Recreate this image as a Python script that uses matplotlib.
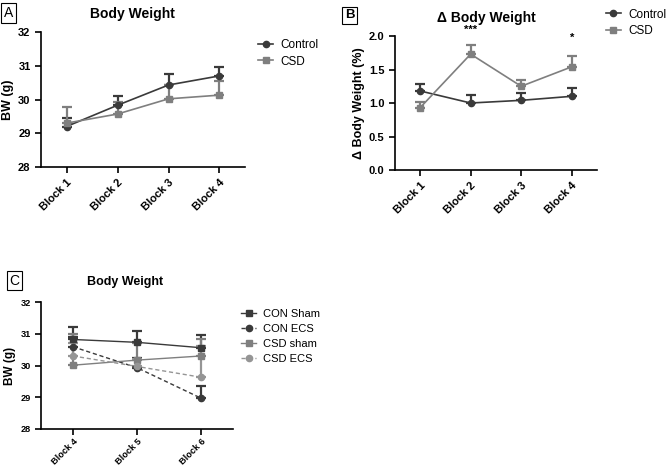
import numpy as np
import matplotlib
matplotlib.use("Agg")
import matplotlib.pyplot as plt

plt.rcParams['font.family'] = ['Liberation Sans', 'DejaVu Sans']

# Panel A: body weight (g)
blocks_a = ['Block 1', 'Block 2', 'Block 3', 'Block 4']
ctrl_bw = [29.2, 29.83, 30.43, 30.7]
ctrl_bw_err = [0.25, 0.27, 0.32, 0.27]
csd_bw = [29.3, 29.57, 30.02, 30.13]
csd_bw_err = [0.48, 0.37, 0.42, 0.42]

# Panel B: delta body weight (%)
ctrl_dbw = [1.18, 1.0, 1.04, 1.1]
ctrl_dbw_err = [0.11, 0.12, 0.11, 0.12]
csd_dbw = [0.93, 1.73, 1.25, 1.54]
csd_dbw_err = [0.08, 0.13, 0.10, 0.16]
stars = ['', '***', '', '*']
star_y = [0, 2.02, 0, 1.9]

# Panel C: body weight (g), blocks 4-6
blocks_c = ['Block 4', 'Block 5', 'Block 6']
con_sham = [30.82, 30.73, 30.56]
con_sham_err = [0.4, 0.37, 0.4]
con_ecs = [30.59, 29.93, 28.97]
con_ecs_err = [0.3, 0.3, 0.38]
csd_sham = [30.01, 30.17, 30.3]
csd_sham_err = [0.98, 0.55, 0.52]
csd_ecs = [30.3, 29.97, 29.63]
csd_ecs_err = [0.4, 0.25, 1.0]

DARK = '#3a3a3a'
GRAY = '#7f7f7f'
LGRAY = '#959595'


def up_err(e):
    return [np.zeros(len(e)), e]


def series(ax, x, y, e, color, marker, ls, label, lw=1.2):
    ax.errorbar(x, y, yerr=up_err(e), color=color, marker=marker, ms=4.5,
                ls=ls, lw=lw, elinewidth=1.6, capsize=3.5, capthick=1.6,
                label=label)


def style(ax, labels, fs=8, pad=3.5):
    for s in ['top', 'right']:
        ax.spines[s].set_visible(False)
    for s in ['left', 'bottom']:
        ax.spines[s].set_linewidth(1.2)
    ax.tick_params(direction='out', width=1.2, length=4, labelsize=fs)
    ax.tick_params(axis='x', pad=pad)
    ax.set_xticks(range(len(labels)))
    ax.set_xticklabels(labels, rotation=45, ha='right', rotation_mode='anchor',
                       fontweight='bold', fontsize=fs)
    ax.set_xlim(-0.5, len(labels) - 0.5)
    for t in ax.get_yticklabels():
        t.set_fontweight('bold')


def legend(ax, anchor, fs, spacing):
    h, l = ax.get_legend_handles_labels()
    ax.legend([hh[0] for hh in h], l, loc='upper left', bbox_to_anchor=anchor,
              frameon=False, fontsize=fs, handlelength=1.3, handletextpad=0.6,
              labelspacing=spacing, borderaxespad=0)


fig = plt.figure(figsize=(6.67, 4.66), dpi=100)

# A
ax1 = fig.add_axes([0.0615, 0.6416, 0.3058, 0.2897])
x = np.arange(4)
series(ax1, x, ctrl_bw, ctrl_bw_err, DARK, 'o', '-', 'Control')
series(ax1, x, csd_bw, csd_bw_err, GRAY, 's', '-', 'CSD')
ax1.set_ylim(28, 32)
ax1.set_yticks([28, 29, 30, 31, 32])
style(ax1, blocks_a)
ax1.set_ylabel('BW (g)', fontweight='bold', fontsize=9, labelpad=3)
ax1.set_title('Body Weight', fontweight='bold', fontsize=10, pad=10, x=0.45)
legend(ax1, (1.04, 0.98), 8.5, 0.35)

# B
ax2 = fig.add_axes([0.592, 0.6352, 0.303, 0.2875])
series(ax2, x, ctrl_dbw, ctrl_dbw_err, DARK, 'o', '-', 'Control')
series(ax2, x, csd_dbw, csd_dbw_err, GRAY, 's', '-', 'CSD')
ax2.set_ylim(0, 2.0)
ax2.set_yticks([0.0, 0.5, 1.0, 1.5, 2.0])
ax2.set_yticklabels(['0.0', '0.5', '1.0', '1.5', '2.0'])
style(ax2, blocks_a)
for i, s in enumerate(stars):
    if s:
        ax2.text(i, star_y[i], s, ha='center', va='bottom', fontweight='bold', fontsize=8)
ax2.set_ylabel('Δ Body Weight (%)', fontweight='bold', fontsize=9, labelpad=3)
ax2.set_title('Δ Body Weight', fontweight='bold', fontsize=10, pad=10, x=0.455)
legend(ax2, (1.02, 1.24), 8.5, 0.35)

# C
ax3 = fig.add_axes([0.0615, 0.0794, 0.288, 0.2725])
xc = np.arange(3)
series(ax3, xc, con_sham, con_sham_err, DARK, 's', '-', 'CON Sham', lw=1.0)
series(ax3, xc, con_ecs, con_ecs_err, DARK, 'o', (0, (3, 2)), 'CON ECS', lw=1.0)
series(ax3, xc, csd_sham, csd_sham_err, GRAY, 's', '-', 'CSD sham', lw=1.0)
series(ax3, xc, csd_ecs, csd_ecs_err, LGRAY, 'o', (0, (3, 2)), 'CSD ECS', lw=1.0)
ax3.set_ylim(28, 32)
ax3.set_yticks([28, 29, 30, 31, 32])
style(ax3, blocks_c, fs=6.6, pad=2)
ax3.set_ylabel('BW (g)', fontweight='bold', fontsize=8.5, labelpad=3)
ax3.set_title('Body Weight', fontweight='bold', fontsize=9, pad=12, x=0.44)
legend(ax3, (1.02, 0.98), 8, 0.45)

# panel letters
box = dict(boxstyle='square,pad=0.2', fc='white', ec='black', lw=0.8)
fig.text(0.006, 0.972, 'A', fontsize=10, va='center', ha='left', bbox=box)
fig.text(0.517, 0.967, 'B', fontsize=9.5, fontweight='bold', va='center', ha='left', bbox=box)
fig.text(0.014, 0.398, 'C', fontsize=10, va='center', ha='left', bbox=box)

fig.savefig('out.png', dpi=100)
